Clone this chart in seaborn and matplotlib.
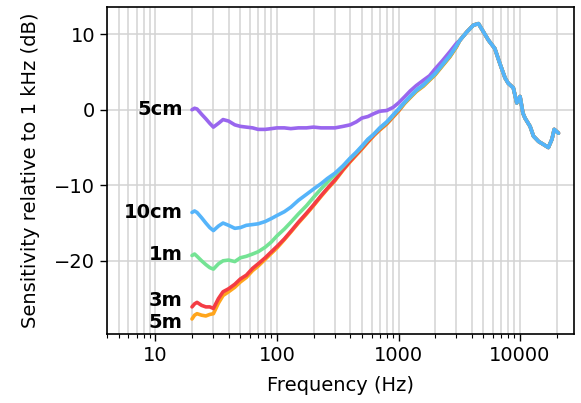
import matplotlib
matplotlib.use("Agg")
import matplotlib.pyplot as plt
import matplotlib.ticker as mticker
import seaborn as sns
import numpy as np
import pandas as pd

# %% Data (frequency in Hz, sensitivity in dB)
freq_lo = [20, 21, 22, 24, 26, 28, 30, 33, 36, 40, 45, 50, 56, 63, 70, 80, 90,
           100, 115, 130, 150, 175, 200, 230, 260, 300, 350, 400, 450, 500, 560,
           630, 700, 800, 900, 1000, 1120, 1250, 1400, 1600, 1800, 2000, 2300,
           2650, 3000]

db_5cm = [0.0, 0.2, 0.1, -0.6, -1.2, -1.8, -2.3, -1.8, -1.3, -1.5, -2.0, -2.2,
          -2.3, -2.4, -2.6, -2.6, -2.5, -2.4, -2.4, -2.5, -2.4, -2.4, -2.3, -2.4,
          -2.4, -2.4, -2.2, -2.0, -1.6, -1.1, -0.9, -0.5, -0.2, -0.1, 0.3, 0.9,
          1.7, 2.5, 3.2, 3.9, 4.5, 5.4, 6.5, 7.7, 8.8]
db_10cm = [-13.6, -13.4, -13.6, -14.3, -15.0, -15.6, -16.0, -15.4, -15.0, -15.3,
           -15.7, -15.6, -15.3, -15.2, -15.1, -14.8, -14.4, -14.0, -13.5, -12.9,
           -12.0, -11.2, -10.5, -9.8, -9.1, -8.4, -7.4, -6.4, -5.6, -4.8, -3.9,
           -3.2, -2.4, -1.6, -0.7, 0.1, 1.0, 1.8, 2.6, 3.3, 4.1, 4.8, 6.0, 7.2,
           8.5]
db_1m = [-19.3, -19.1, -19.4, -20.0, -20.5, -20.9, -21.1, -20.4, -20.0, -19.9,
         -20.1, -19.6, -19.4, -19.1, -18.8, -18.2, -17.5, -16.7, -15.8, -14.9,
         -13.8, -12.7, -11.6, -10.5, -9.6, -8.6, -7.5, -6.5, -5.7, -4.9, -4.0,
         -3.2, -2.5, -1.7, -0.8, 0.0, 0.9, 1.7, 2.5, 3.2, 4.0, 4.7, 5.9, 7.1,
         8.4]
db_3m = [-26.1, -25.7, -25.5, -25.9, -26.1, -26.1, -26.3, -25.0, -24.1, -23.7,
         -23.1, -22.4, -21.9, -21.0, -20.4, -19.6, -18.8, -18.1, -17.1, -16.1,
         -14.9, -13.7, -12.6, -11.4, -10.4, -9.3, -7.9, -6.8, -5.9, -5.1, -4.2,
         -3.3, -2.6, -1.8, -0.9, -0.1, 0.9, 1.7, 2.5, 3.2, 4.0, 4.7, 5.9, 7.1,
         8.4]
db_5m = [-27.7, -27.2, -27.0, -27.2, -27.3, -27.1, -27.0, -25.6, -24.6, -24.1,
         -23.5, -22.8, -22.2, -21.3, -20.7, -19.8, -19.0, -18.3, -17.2, -16.2,
         -15.0, -13.8, -12.7, -11.5, -10.5, -9.4, -8.0, -6.9, -6.0, -5.2, -4.3,
         -3.4, -2.7, -1.9, -1.0, -0.2, 0.8, 1.6, 2.4, 3.1, 3.9, 4.6, 5.8, 7.0,
         8.3]

# above ~3 kHz all distances lie on top of each other
freq_hi = [3200, 3650, 4130, 4550, 5000, 5500, 6200, 6830, 7530, 8000, 8800,
           9400, 10000, 10560, 10980, 12090, 12900, 14200, 15600, 17100, 18300,
           19100, 20700]
db_hi = [9.2, 10.3, 11.2, 11.4, 10.3, 9.2, 8.1, 6.1, 4.2, 3.5, 2.9, 0.9, 1.75,
         -0.45, -1.1, -2.2, -3.5, -4.2, -4.6, -5.0, -3.9, -2.6, -3.1]

distances = ["5cm", "10cm", "1m", "3m", "5m"]
label_db = [0.0, -13.6, -19.1, -25.2, -28.1]
colors = ["#9966ee", "#55b4fa", "#74e394", "#f43c44", "#ffa51c"]
draw_order = ["5cm", "5m", "3m", "1m", "10cm"]

# %% long table for seaborn
series = {"5cm": db_5cm, "10cm": db_10cm, "1m": db_1m, "3m": db_3m, "5m": db_5m}
frames = []
for name in distances:
    frames.append(pd.DataFrame({
        "freq": freq_lo + freq_hi,
        "db": series[name] + db_hi,
        "distance": name,
    }))
df = pd.concat(frames, ignore_index=True)

# %% plot
sns.set_style("white")
plt.rcParams["font.family"] = ["DejaVu Sans"]
plt.rcParams.update({"text.color": "black", "axes.labelcolor": "black",
                     "xtick.color": "black", "ytick.color": "black"})

fig = plt.figure(figsize=(5.81, 4.03), dpi=100)
ax = fig.add_axes([0.184, 0.171, 0.804, 0.8116])

sns.lineplot(data=df, x="freq", y="db", hue="distance", palette=dict(zip(distances, colors)),
             hue_order=draw_order, sort=False, estimator=None, lw=2.6, legend=False, ax=ax)

ax.set_xscale("log")
ax.set_xlim(3.99, 27800)
ax.set_ylim(-29.7, 13.6)
ax.set_yticks([-20, -10, 0, 10])
ax.xaxis.set_major_locator(mticker.LogLocator(base=10, numticks=10))
ax.xaxis.set_major_formatter(mticker.FuncFormatter(lambda v, p: "%d" % v))
ax.xaxis.set_minor_locator(mticker.LogLocator(base=10, subs=np.arange(2, 10), numticks=20))
ax.xaxis.set_minor_formatter(mticker.NullFormatter())

ax.grid(True, which="major", axis="both", color="#d3d3d3", lw=1.1)
ax.grid(True, which="minor", axis="x", color="#d3d3d3", lw=1.1)
ax.set_axisbelow(True)

ax.tick_params(axis="both", which="major", direction="out", length=5, width=1,
               labelsize=14, bottom=True, left=True, colors="black")
ax.tick_params(axis="x", which="minor", direction="out", length=3, width=0.8, bottom=True)
for s in ax.spines.values():
    s.set_color("black")
    s.set_linewidth(1.2)

ax.set_xlabel("Frequency (Hz)", fontsize=14, labelpad=8)
ax.set_ylabel("Sensitivity relative to 1 kHz (dB)", fontsize=14, labelpad=10)

for name, y in zip(distances, label_db):
    ax.text(16.8, y, name, ha="right", va="center", fontsize=14, fontweight="bold")

fig.savefig("out.png", dpi=100)
